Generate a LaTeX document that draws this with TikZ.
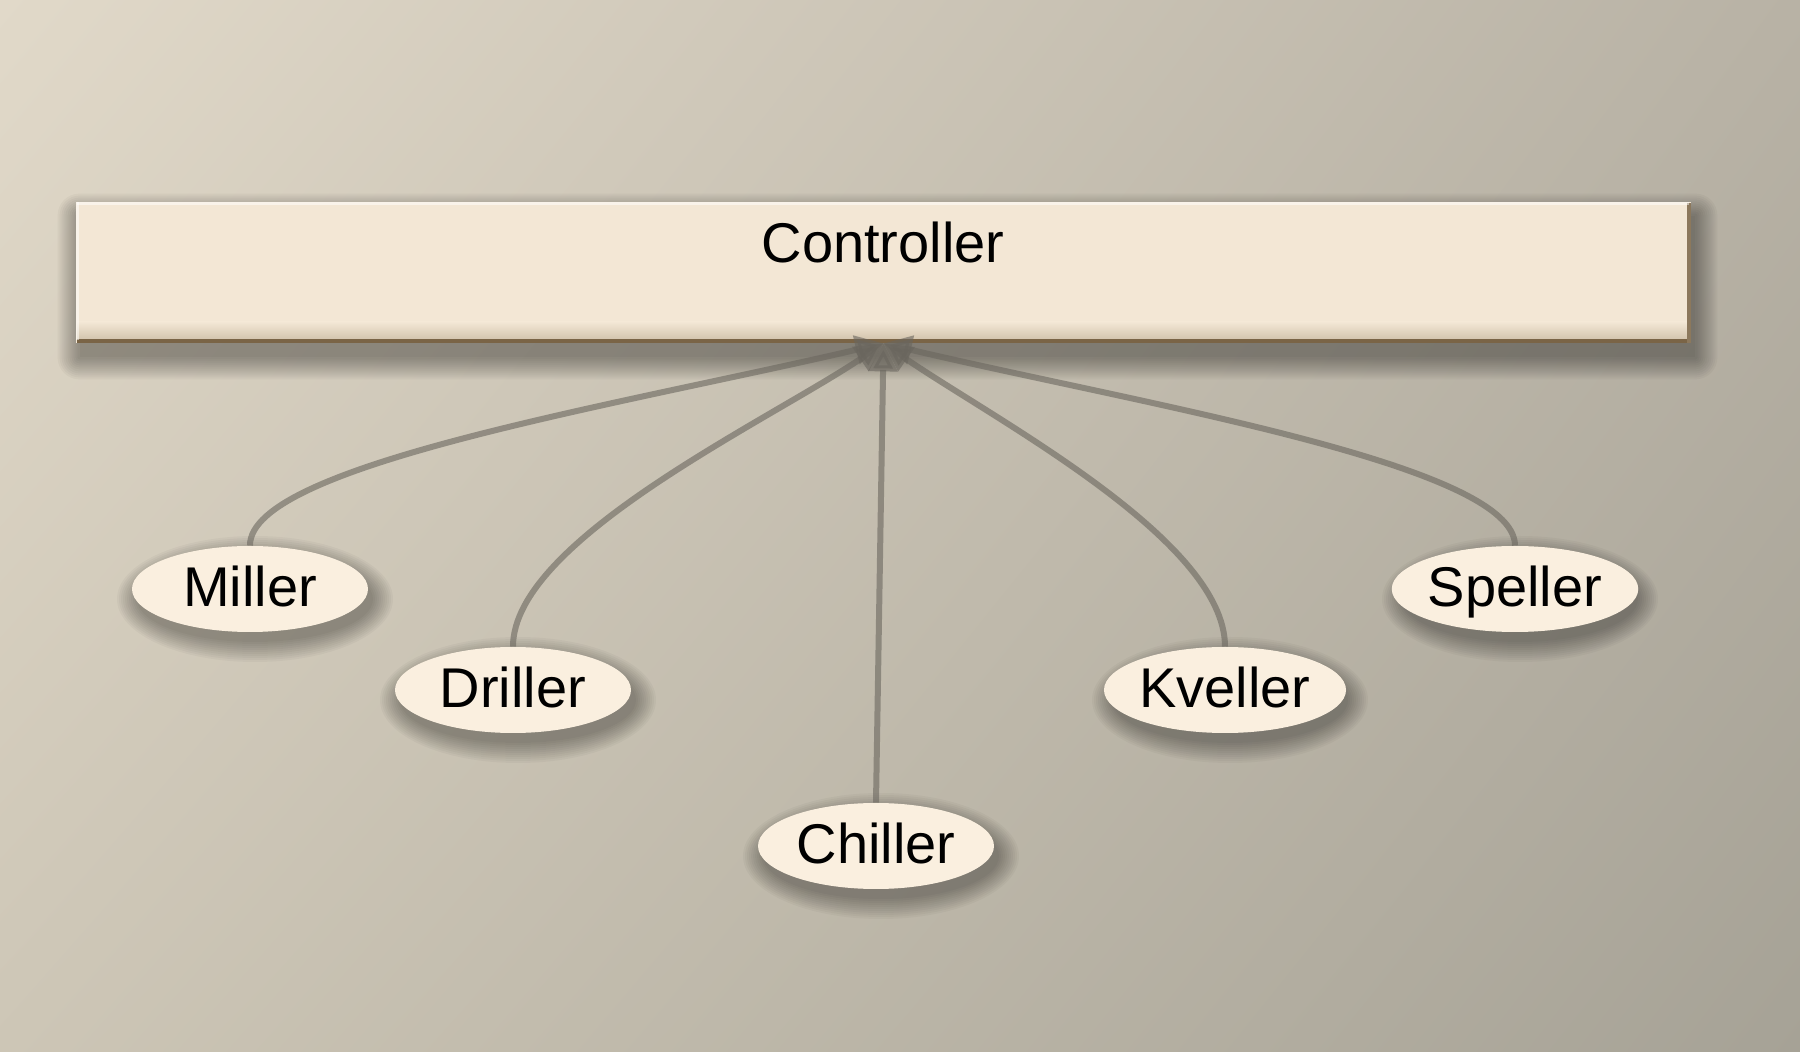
\documentclass[tikz,border=0pt]{standalone}
\usepackage{fontspec}
\setmainfont{Liberation Sans}
\usetikzlibrary{shapes.geometric,arrows.meta,shadings}
\definecolor{bgUL}{HTML}{E1D9C9}
\definecolor{bgUR}{HTML}{B8B2A5}
\definecolor{bgLL}{HTML}{CDC6B6}
\definecolor{bgLR}{HTML}{A6A296}
\definecolor{boxfill}{HTML}{F3E7D5}
\definecolor{boxdark}{HTML}{D2C3AC}
\definecolor{boxedge}{HTML}{7A6446}
\definecolor{ellfill}{HTML}{FAEFDF}
\definecolor{edgecol}{HTML}{6A665E}
\pgfdeclarelayer{bglayer}
\pgfdeclarelayer{shadowlayer}
\pgfsetlayers{bglayer,shadowlayer,main}
\tikzset{
  leaf/.style={ellipse, fill=ellfill, minimum width=118pt, minimum height=43pt, inner sep=0pt,
    font=\fontsize{28}{34}\selectfont, text height=21.5pt, text depth=3.5pt},
  link/.style={draw=edgecol, opacity=0.6, line width=3pt,
    -{Triangle[length=14pt,width=14pt,fill=edgecol]}},
  softshadow/.style={fill=black, opacity=0.03},
}
\begin{document}
\begin{tikzpicture}[x=0.5pt,y=-0.5pt]
\useasboundingbox (0,0) rectangle (1800,1052);
\begin{pgfonlayer}{bglayer}
\shade[upper left=bgUL, upper right=bgUR, lower left=bgLL, lower right=bgLR] (0,0) rectangle (1800,1052);
\end{pgfonlayer}
% controller box
\node[rectangle, fill=boxfill, minimum width=807.5pt, minimum height=70.5pt, inner sep=0pt]
  (ctrl) at (883.5,272.5) {};
\shade[top color=boxfill, bottom color=boxdark] (77,322) rectangle (1689,340);
\fill[boxedge] (77,339) rectangle (1690,343);
\fill[boxedge!85!boxfill] (1687,203) rectangle (1691,343);
\fill[white, opacity=0.5] (77,202) rectangle (1689,205);
\fill[white, opacity=0.5] (76,202) rectangle (79,340);
\node[font=\fontsize{28}{34}\selectfont] (ctrltext) at (883,242) {Controller};
\begin{pgfonlayer}{shadowlayer}
\foreach \e in {0,2,...,22}
  \fill[softshadow, rounded corners={\e*0.5pt}] ([shift={(4-\e,14-\e)}]ctrl.north west) rectangle ([shift={(4+\e,14+\e)}]ctrl.south east);
\end{pgfonlayer}
% leaves
\node[leaf] (miller) at (250,589) {Miller};
\node[leaf] (driller) at (513,690) {Driller};
\node[leaf] (chiller) at (876,846) {Chiller};
\node[leaf] (kveller) at (1225,690) {Kveller};
\node[leaf] (speller) at (1515,589) {Speller};
\begin{pgfonlayer}{shadowlayer}
\foreach \n in {miller,driller,chiller,kveller,speller}
  \foreach \e in {0,2,...,20}
    \fill[softshadow] ([shift={(5,10)}]\n.center) ellipse [x radius={(118+\e)*0.5pt}, y radius={(43+\e)*0.5pt}];
\end{pgfonlayer}
% links
\draw[link] (miller.north) .. controls (249,465) and (620,405) .. (ctrl.south);
\draw[link] (driller.north) .. controls (513,540) and (770,420) .. (ctrl.south);
\draw[link] (chiller.north) -- (ctrl.south);
\draw[link] (kveller.north) .. controls (1225,540) and (995,420) .. (ctrl.south);
\draw[link] (speller.north) .. controls (1515,465) and (1145,405) .. (ctrl.south);
\end{tikzpicture}
\end{document}
